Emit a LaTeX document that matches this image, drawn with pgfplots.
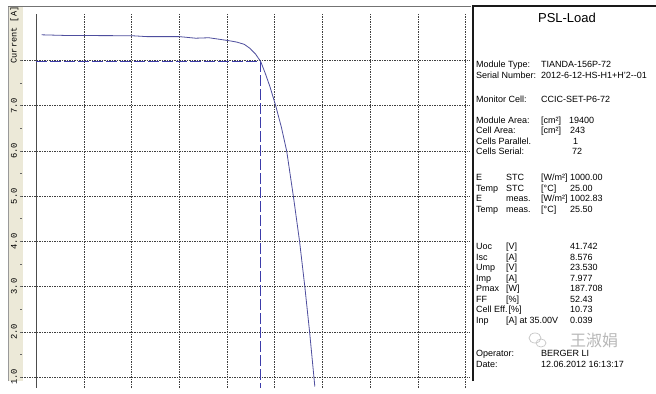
\documentclass[border=0pt]{standalone}
\usepackage{pgfplots}
\pgfplotsset{compat=1.18}
\usepackage{fontspec}
\setmainfont{Liberation Sans}
\newfontfamily\mono{Liberation Mono}
\newfontfamily\cjk{Noto Sans CJK SC}
\definecolor{strip}{RGB}{236,233,216}
\definecolor{curve}{RGB}{78,78,158}
\definecolor{dashc}{RGB}{60,60,170}
\newcommand\T[3]{\node[anchor=base west, inner sep=0pt] at (#1,393-#2) {#3};}
\begin{document}
\begin{tikzpicture}[x=1bp,y=1bp]
\path[use as bounding box] (0,0) rectangle (656,393);
\fill[white] (0,0) rectangle (656,393);
\fill[strip] (8,12) rectangle (23,387);
\draw[black!40, line width=0.8bp] (8.4,12)--(8.4,387);
\begin{axis}[
  at={(23,12)}, anchor=south west,
  width=448bp, height=374bp, scale only axis,
  xmin=-1.5, xmax=45.46, ymin=0.766, ymax=9.04,
  axis line style={draw=none},
  xtick={5,10,...,45}, xticklabels={}, xtick style={draw=none},
  ytick={1,2,...,8},
  yticklabels={1.0,2.0,3.0,4.0,5.0,6.0,7.0,{}},
  minor y tick num=1,
  ytick pos=left, xtick pos=bottom,
  tick align=outside,
  major tick length=2bp, minor tick length=1.5bp,
  ytick style={black!60, line width=0.6bp},
  yticklabel style={font=\mono\fontsize{8.8bp}{9bp}\selectfont, anchor=center, xshift=-6bp, rotate=90},
  grid=major,
  major grid style={black!75, line width=0.6bp, dash pattern=on 1.2bp off 1.3bp},
  clip=true,
]
\addplot[black!70, line width=0.8bp] coordinates {(0,0.766) (0,9.04)};
\addplot[dashc, line width=1bp, dash pattern=on 11bp off 3bp] coordinates {(0,7.977) (23.53,7.977) (23.53,0.766)};
\addplot[curve, line width=0.8bp] coordinates {
(0.57,8.57) (3.2,8.555) (10.0,8.55) (11.6,8.53) (15.0,8.53) (16.7,8.495) (18.1,8.505)
(20.2,8.44) (21.0,8.41) (21.8,8.36) (22.4,8.27) (23.0,8.14) (23.53,7.977) (24.0,7.72)
(24.5,7.42) (25.1,7.0) (25.7,6.52) (26.25,6.0) (26.6,5.5) (26.95,5.0) (27.6,4.0)
(28.15,3.0) (28.65,2.0) (29.2,0.79)};
\end{axis}
\draw[black!55, line width=1.4bp] (8,386.3)--(471,386.3);
\node[rotate=90, font=\mono\fontsize{8.6bp}{9bp}\selectfont, inner sep=0pt] at (14.5,393-35) {Current [A]};
% panel
\fill[white] (473,12) rectangle (656,386);
\draw[black!90, line width=2bp] (473,12)--(473,387)--(657,387);
\node[font=\fontsize{13bp}{14bp}\selectfont, anchor=base, inner sep=0pt] at (567,393-22.5) {PSL-Load};
\begin{scope}[font=\fontsize{9bp}{10bp}\selectfont]
\T{476}{67.5}{Module Type:}\T{541}{67.5}{TIANDA-156P-72}
\T{476}{78}{Serial Number:}\T{541}{78}{2012-6-12-HS-H1+H'2-{}-01}
\T{476}{102}{Monitor Cell:}\T{541}{102}{CCIC-SET-P6-72}
\T{476}{123}{Module Area:}\T{541}{123}{[cm²]}\T{569}{123}{19400}
\T{476}{133.5}{Cell Area:}\T{541}{133.5}{[cm²]}\T{570}{133.5}{243}
\T{476}{144}{Cells Parallel.}\T{573}{144}{1}
\T{476}{154.5}{Cells Serial:}\T{572}{154.5}{72}
\T{476}{180.5}{E}\T{506}{180.5}{STC}\T{541}{180.5}{[W/m²]}\T{570}{180.5}{1000.00}
\T{476}{191}{Temp}\T{506}{191}{STC}\T{541}{191}{[°C]}\T{570}{191}{25.00}
\T{476}{201.5}{E}\T{506}{201.5}{meas.}\T{541}{201.5}{[W/m²]}\T{570}{201.5}{1002.83}
\T{476}{212}{Temp}\T{506}{212}{meas.}\T{541}{212}{[°C]}\T{570}{212}{25.50}
\T{476}{249.5}{Uoc}\T{506}{249.5}{[V]}\T{570}{249.5}{41.742}
\T{476}{260}{Isc}\T{506}{260}{[A]}\T{570}{260}{8.576}
\T{476}{270.5}{Ump}\T{506}{270.5}{[V]}\T{570}{270.5}{23.530}
\T{476}{281}{Imp}\T{506}{281}{[A]}\T{570}{281}{7.977}
\T{476}{291.5}{Pmax}\T{506}{291.5}{[W]}\T{570}{291.5}{187.708}
\T{476}{302}{FF}\T{506}{302}{[\%]}\T{570}{302}{52.43}
\T{476}{312.5}{Cell Eff.}\T{508.5}{312.5}{[\%]}\T{570}{312.5}{10.73}
\T{476}{323}{Inp}\T{506}{323}{[A] at 35.00V}\T{570}{323}{0.039}
\T{476}{356.5}{Operator:}\T{541}{356.5}{BERGER LI}
\T{476}{367.5}{Date:}\T{541}{367.5}{12.06.2012 16:13:17}
\end{scope}
% watermark
\draw[black!22, line width=0.7bp] (535,393-338) ellipse (6 and 5);
\draw[black!22, line width=0.7bp] (541,393-343) ellipse (5 and 4);
\node[black!28, font=\cjk\fontsize{16bp}{17bp}\selectfont, anchor=center, inner sep=0pt] at (594,393-340) {王淑娟};
\end{tikzpicture}
\end{document}
